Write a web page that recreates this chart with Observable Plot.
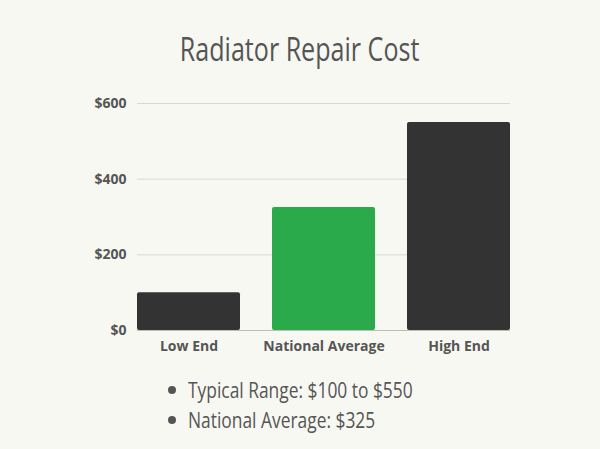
<!DOCTYPE html>
<html>
<head>
<meta charset="utf-8">
<script src="https://cdn.jsdelivr.net/npm/d3@7"></script>
<script src="https://cdn.jsdelivr.net/npm/@observablehq/plot@0.6"></script>
<style>
  html, body { margin: 0; padding: 0; background: #f8f8f3; }
  body { width: 600px; height: 449px; overflow: hidden; position: relative; }
  .cond { font-family: "Open Sans", "Noto Sans", sans-serif; font-weight: 500; }
  #title { position: absolute; top: 28px; left: 0; width: 600px; text-align: center;
    font-size: 33px; color: #555; line-height: 42px; }
  #title span { display: inline-block; transform: scaleX(0.76); transform-origin: center; }
  #chart { position: absolute; top: 80px; left: 0; }
  #notes { position: absolute; top: 374px; left: 168px; margin: 0; padding: 0; list-style: none;
    font-size: 22px; color: #555; width: 400px; }
  #notes li { line-height: 30px; position: relative; padding-left: 20px; white-space: nowrap; }
  #notes li span { display: inline-block; transform: scaleX(0.79); transform-origin: left center; }
  #notes li::before { content: ""; position: absolute; left: 0; top: 12px; width: 8px; height: 8px; border-radius: 50%; background: #555; }
</style>
</head>
<body>
<div id="title" class="cond"><span>Radiator Repair Cost</span></div>
<div id="chart"></div>
<ul id="notes" class="cond"></ul>
<script>
const categories = ["Low End", "National Average", "High End"];
const costs = [100, 325, 550];
const barColors = ["#333333", "#2aaa4a", "#333333"];
const yTicks = [0, 200, 400, 600];
const notes = ["Typical Range: $100 to $550", "National Average: $325"];

const data = categories.map((c, i) => ({category: c, cost: costs[i], color: barColors[i]}));

const plot = Plot.plot({
  width: 600,
  height: 280,
  marginLeft: 137,
  marginRight: 90,
  marginTop: 23,
  marginBottom: 30,
  style: {background: "transparent", fontFamily: "'Open Sans', sans-serif", fontSize: "14px", fontWeight: "bold", color: "#555"},
  x: {domain: categories, paddingInner: 0.237, paddingOuter: 0, round: false, label: null},
  y: {domain: [0, 600], label: null},
  marks: [
    Plot.gridY(yTicks, {stroke: "#d9d9d4", strokeOpacity: 1}),
    Plot.barY(data, {x: "category", y: "cost", fill: "color", rx: 2, insetLeft: 0, insetRight: 0}),
    Plot.ruleY([0], {stroke: "#bdbdb8"}),
    Plot.axisY(yTicks, {tickSize: 0, tickPadding: 11, tickFormat: d => "$" + d, fill: "#555", fontWeight: "bold", fontSize: 14}),
    Plot.axisX({tickSize: 0, tickPadding: 11, fill: "#555", fontWeight: "bold", fontSize: 14})
  ]
});
document.getElementById("chart").appendChild(plot);

const ul = document.getElementById("notes");
notes.forEach(t => {
  const li = document.createElement("li");
  const s = document.createElement("span");
  s.textContent = t;
  li.appendChild(s);
  ul.appendChild(li);
});
</script>
</body>
</html>
